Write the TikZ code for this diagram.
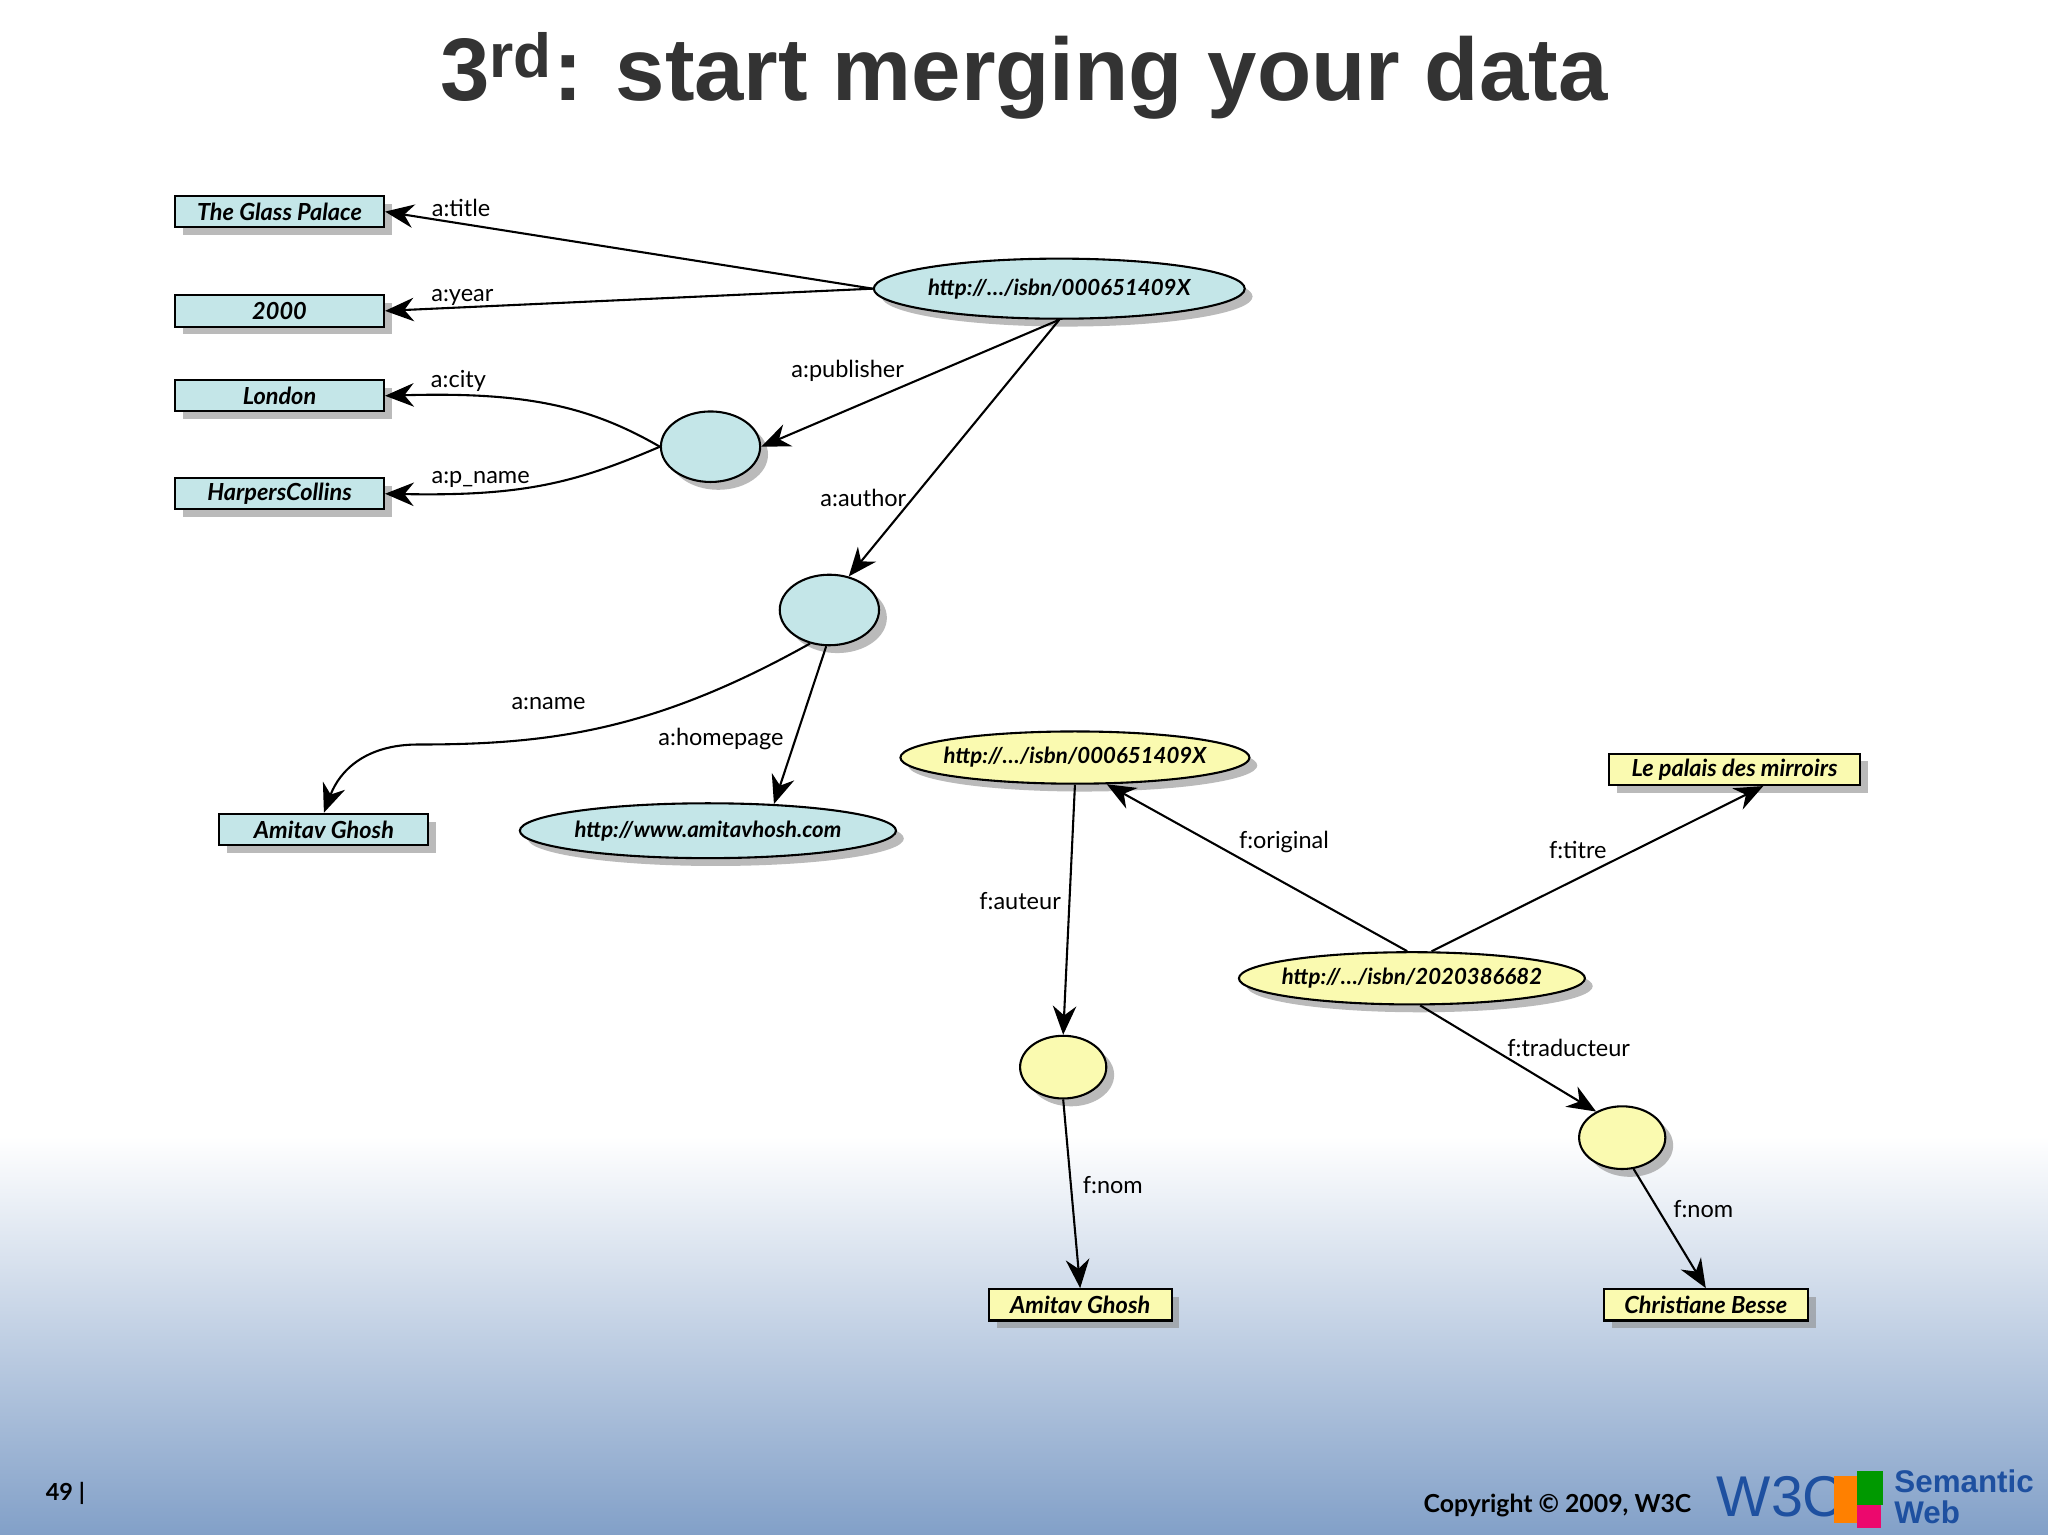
\documentclass[tikz,border=0pt]{standalone}
\usepackage{fontspec}
\setmainfont{Lato}
\newfontfamily\titlefont{Liberation Sans}
\usetikzlibrary{shadows,arrows.meta,shapes.geometric,positioning}
\begin{document}
\begin{tikzpicture}[x=0.5pt,y=-0.5pt,
 lbl/.style={font=\fontsize{9}{10}\selectfont,inner sep=1pt},
 shd/.style={drop shadow={shadow xshift=3pt,shadow yshift=-3pt,fill=black!45,opacity=0.6}},
 cbox/.style={draw,thick,fill=cyanfill,shd,minimum height=12pt,font=\fontsize{9}{10}\selectfont\bfseries\itshape,inner sep=1pt},
 ybox/.style={cbox,fill=yellowfill},
 cell/.style={draw,thick,ellipse,fill=cyanfill,shd,font=\fontsize{8.5}{10}\selectfont\bfseries\itshape,inner sep=-3pt},
 yell/.style={cell,fill=yellowfill},
 arr/.style={thick,-{Stealth[length=11pt,width=9pt]}}]
\definecolor{cyanfill}{RGB}{196,230,232}
\definecolor{yellowfill}{RGB}{250,250,176}
\useasboundingbox (0,0) rectangle (1568,1175);
\shade[top color=white,bottom color=white] (0,0) rectangle (1568,870);
\shade[top color=white,bottom color={rgb,255:red,130;green,160;blue,200}] (0,870) rectangle (1568,1175);
\node[font=\titlefont\fontsize{34}{36}\selectfont\bfseries,text=black!80] (title) at (784,58) {3\textsuperscript{rd}: start merging your data};
% cyan
\node[cbox,minimum width=80pt] (tgp) at (214,162) {The Glass Palace};
\node[cbox,minimum width=80pt] (y2000) at (214,238) {2000};
\node[cbox,minimum width=80pt] (lon) at (214,303) {London};
\node[cbox,minimum width=80pt] (hc) at (214,378) {HarpersCollins};
\node[cell,minimum width=142pt,minimum height=23pt] (isbnA) at (811,221) {http://…/isbn/000651409X};
\node[cell,minimum width=38pt,minimum height=27pt] (b1) at (544,342) {};
\node[cell,minimum width=38pt,minimum height=27pt] (b2) at (635,467) {};
\node[cbox,minimum width=80pt] (agA) at (248,635) {Amitav Ghosh};
\node[cell,minimum width=144pt,minimum height=21pt] (hp) at (542,636) {http://www.amitavhosh.com};
% yellow
\node[yell,minimum width=124pt,minimum height=20pt] (isbnF) at (823,580) {http://…/isbn/000651409X};
\node[ybox,minimum width=96pt] (lp) at (1328,589) {Le palais des mirroirs};
\node[yell,minimum width=124pt,minimum height=20pt] (isbnT) at (1081,749) {http://…/isbn/2020386682};
\node[yell,minimum width=33pt,minimum height=24pt] (b3) at (814,817) {};
\node[yell,minimum width=33pt,minimum height=24pt] (b4) at (1242,871) {};
\node[ybox,minimum width=70pt] (agF) at (827,999) {Amitav Ghosh};
\node[ybox,minimum width=78pt] (cb) at (1306,999) {Christiane Besse};
% edges
\draw[arr] (isbnA.west) -- (tgp.east);
\draw[arr] (isbnA.west) -- (y2000.east);
\draw[arr] (isbnA.south) -- (b1.east);
\draw[arr] (b1.west) .. controls (450,310) and (400,300) .. (lon.east);
\draw[arr] (b1.west) .. controls (440,370) and (400,380) .. (hc.east);
\draw[arr] (isbnA.south) -- (b2.60);
\draw[arr] (b2.-120) .. controls (500,560) and (420,570) .. (320,570) .. controls (280,570) and (260,590) .. (agA.north);
\draw[arr] (b2.-95) -- (hp.22);
\draw[arr] (isbnT.100) -- (isbnF.-40);
\draw[arr] (isbnT.54) -- ([xshift=11pt]lp.south);
\draw[arr] (isbnF.south) -- (b3.north);
\draw[arr] (isbnT.-73) -- (b4.135);
\draw[arr] (b3.south) -- (agF.north);
\draw[arr] (b4.-70) -- (cb.north);
\node[lbl] (l1) at (353,159) {a:title};
\node[lbl] (l2) at (354,228) {a:year};
\node[lbl] (l3) at (351,292) {a:city};
\node[lbl] (l4) at (368,367) {a:p\_name};
\node[lbl] (l5) at (649,284) {a:publisher};
\node[lbl] (l6) at (661,381) {a:author};
\node[lbl] (l7) at (420,539) {a:name};
\node[lbl] (l8) at (552,566) {a:homepage};
\node[lbl] (l9) at (983,645) {f:original};
\node[lbl] (l10) at (1208,651) {f:titre};
\node[lbl] (l11) at (781,690) {f:auteur};
\node[lbl] (l12) at (1201,802) {f:traducteur};
\node[lbl] (l13) at (852,907) {f:nom};
\node[lbl] (l14) at (1304,926) {f:nom};
% footer
\node[font=\fontsize{9}{10}\selectfont\bfseries,anchor=west] (pg) at (28,1143) {49 |};
\node[font=\fontsize{9.5}{10}\selectfont\bfseries,anchor=east] (copy) at (1302,1153) {Copyright © 2009, W3C};
\node[font=\titlefont\fontsize{22}{22}\selectfont,text={rgb,255:red,30;green,80;blue,160},anchor=west,inner sep=0pt] (w3c) at (1314,1146) {W3C};
\fill[orange] (1404,1130) rectangle (1422,1166);
\fill[green!60!black] (1422,1126) rectangle (1442,1152);
\fill[magenta!70!red] (1422,1152) rectangle (1440,1170);
\node[font=\titlefont\fontsize{12}{12}\selectfont\bfseries,text={rgb,255:red,30;green,80;blue,160},anchor=west,align=left,inner sep=0pt] (sw) at (1450,1146) {Semantic\\Web};
\end{tikzpicture}
\end{document}
